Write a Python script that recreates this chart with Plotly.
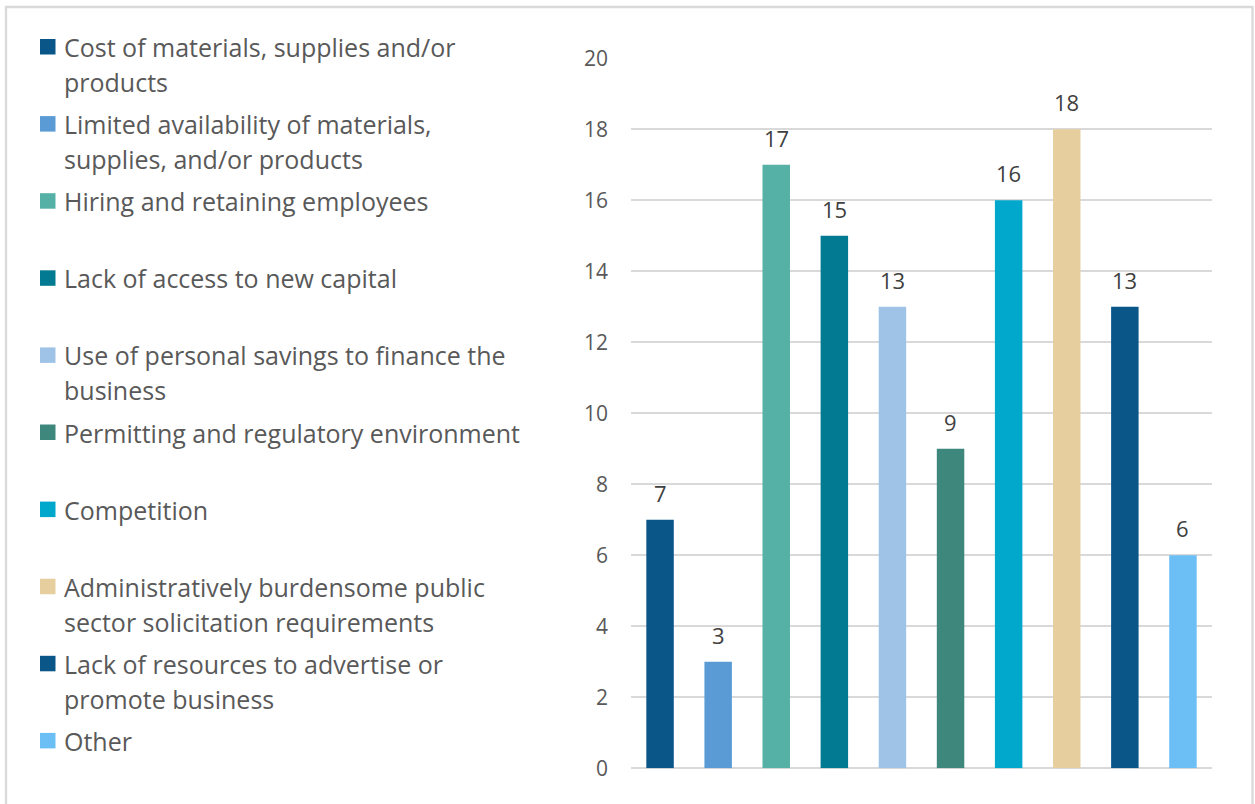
import plotly.graph_objects as go

# Survey responses: challenges faced by the business
categories = [
    "Cost of materials, supplies and/or\nproducts",
    "Limited availability of materials,\nsupplies, and/or products",
    "Hiring and retaining employees",
    "Lack of access to new capital",
    "Use of personal savings to finance the\nbusiness",
    "Permitting and regulatory environment",
    "Competition",
    "Administratively burdensome public\nsector solicitation requirements",
    "Lack of resources to advertise or\npromote business",
    "Other",
]
counts = [7, 3, 17, 15, 13, 9, 16, 18, 13, 6]
y_ticks = [0, 2, 4, 6, 8, 10, 12, 14, 16, 18, 20]

colors = [
    "#0B5689", "#5B9BD5", "#55B1A5", "#027A91", "#9FC3E7",
    "#3E877D", "#02A7CC", "#E6CE9F", "#0B5689", "#6BBFF5",
]

W, H = 1255, 804
FONT = "Open Sans"


def px_x(p):
    return p / W


def px_y(p):
    return 1 - p / H


labels = [c.replace("\n", " ") for c in categories]

fig = go.Figure(
    go.Bar(
        x=labels,
        y=counts,
        marker=dict(color=colors, line=dict(width=0)),
        showlegend=False,
        hoverinfo="x+y",
    )
)

annotations = []
# value labels above each bar
for lab, v in zip(labels, counts):
    annotations.append(dict(
        x=lab, y=v, xref="x", yref="y", text=str(v), showarrow=False,
        yshift=27, font=dict(family=FONT, size=22, color="#404040"),
    ))

# legend block on the left
shapes = []
row0, step, line_h = 47, 77.1, 35
for i, (cat, col) in enumerate(zip(categories, colors)):
    top = row0 + i * step
    shapes.append(dict(
        type="rect", xref="paper", yref="paper",
        x0=px_x(40), x1=px_x(55.5), y0=px_y(top - 8), y1=px_y(top + 7.5),
        fillcolor=col, line=dict(width=0), layer="above",
    ))
    for j, line in enumerate(cat.split("\n")):
        annotations.append(dict(
            x=px_x(62), y=px_y(top + j * line_h), xref="paper", yref="paper",
            text=line, showarrow=False, xanchor="left", yanchor="middle",
            font=dict(family=FONT, size=25, color="#595959"),
        ))

# chart frame
shapes.append(dict(
    type="rect", xref="paper", yref="paper",
    x0=px_x(6), x1=px_x(1252.5), y0=px_y(7), y1=-0.05,
    line=dict(color="#D9D9D9", width=2.3), fillcolor="rgba(0,0,0,0)",
))

fig.update_layout(
    width=W, height=H,
    margin=dict(l=0, r=0, t=0, b=0, autoexpand=False),
    paper_bgcolor="white", plot_bgcolor="white",
    bargap=0.527,
    font=dict(family=FONT, size=21, color="#595959"),
    xaxis=dict(
        domain=[px_x(631), px_x(1212)], automargin=False,
        showticklabels=False, showgrid=False, zeroline=False,
        showline=False, ticks="", fixedrange=True,
    ),
    yaxis=dict(
        domain=[px_y(768.3), px_y(58.3)], automargin=False,
        range=[0, 20], tickvals=y_ticks,
        showgrid=True, gridcolor="#D9D9D9", gridwidth=1.7,
        zeroline=True, zerolinecolor="#D9D9D9", zerolinewidth=1.7,
        showline=False, ticks="", ticklabelstandoff=22,
        tickfont=dict(family=FONT, size=21, color="#595959"),
    ),
    annotations=annotations,
    shapes=shapes,
)

fig.write_html("out.html")
